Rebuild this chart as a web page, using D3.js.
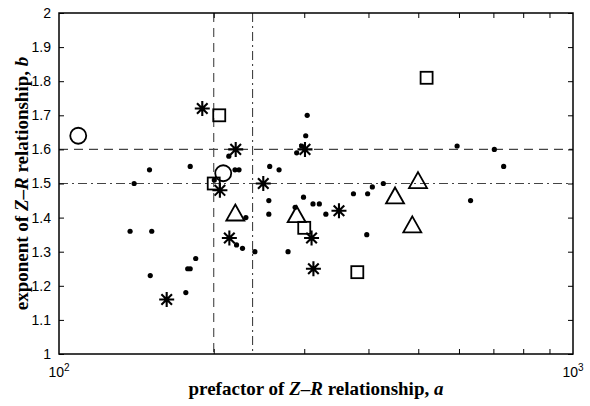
<!DOCTYPE html>
<html>
<head>
<meta charset="utf-8">
<script src="https://cdn.jsdelivr.net/npm/d3@7"></script>
<style>
  html, body { margin: 0; padding: 0; background: #fff; }
  svg { display: block; }
</style>
</head>
<body>
<svg id="chart" width="590" height="406"></svg>
<script>
// ---- data (prefactor a, exponent b) ----
const dots = [
  [150,1.54],[180,1.55],[140,1.50],[220,1.54],[224,1.54],[214,1.58],[200.5,1.51],
  [231,1.40],[257,1.55],[268,1.54],[256,1.45],[256,1.41],[137.5,1.36],[151.5,1.36],
  [150.5,1.23],[184.5,1.28],[178,1.25],[180,1.25],[176.5,1.18],[221.5,1.32],
  [227.5,1.31],[240.5,1.30],[304,1.70],[302,1.64],[296.5,1.61],[290,1.59],
  [299,1.46],[312,1.44],[321,1.44],[330.5,1.41],[374,1.47],[398.5,1.47],[407,1.49],
  [427.5,1.50],[288,1.43],[397,1.35],[279,1.30],[595,1.61],[703,1.60],[733,1.55],[632,1.45]
];
const stars = [
  [190,1.72],[220.7,1.60],[205.6,1.48],[249.7,1.50],[301,1.60],[350.5,1.42],
  [214.5,1.34],[162,1.16],[310,1.34],[312.6,1.25]
];
const squares = [[205,1.70],[200,1.50],[300,1.37],[380.5,1.24],[519,1.81]];
const circles = [[109,1.64],[208.7,1.53]];
const triangles = [[220.3,1.415],[290,1.41],[450.6,1.465],[499.4,1.51],[486.8,1.38]];

const refA = [200, 238];          // vertical lines: dashed, dash-dot
const refB = [1.6, 1.5];          // horizontal lines: dashed, dash-dot
const yTicks = [1,1.1,1.2,1.3,1.4,1.5,1.6,1.7,1.8,1.9,2];
const yTickLabels = ["1","1.1","1.2","1.3","1.4","1.5","1.6","1.7","1.8","1.9","2"];
const xMajor = [100, 1000];
const xMajorExp = ["2", "3"];
const xMinor = [200,300,400,500,600,700,800,900];

// ---- layout ----
const L = 59, R = 573, T = 13, B = 354;
const svg = d3.select("#chart");
const x = d3.scaleLog().domain([100, 1000]).range([L, R]);
const y = d3.scaleLinear().domain([1, 2]).range([B, T]);

// reference lines
const refStyle = ["9,6", "9,4,2,4"];
refA.forEach((v, i) => {
  svg.append("line").attr("x1", x(v)).attr("x2", x(v)).attr("y1", T).attr("y2", B)
    .attr("stroke", "#444").attr("stroke-width", 1.1).attr("stroke-dasharray", refStyle[i]);
});
refB.forEach((v, i) => {
  svg.append("line").attr("x1", L).attr("x2", R).attr("y1", y(v)).attr("y2", y(v))
    .attr("stroke", "#444").attr("stroke-width", 1.1).attr("stroke-dasharray", refStyle[i]);
});

// axes (ticks inward on all four sides)
const tickLen = 5;
const axL = svg.append("g").attr("transform", `translate(${L},0)`)
  .call(d3.axisLeft(y).tickValues(yTicks).tickSize(-tickLen).tickPadding(8)
    .tickFormat((d, i) => yTickLabels[i]));
const axR = svg.append("g").attr("transform", `translate(${R},0)`)
  .call(d3.axisRight(y).tickValues(yTicks).tickSize(-tickLen).tickFormat(""));
const axB = svg.append("g").attr("transform", `translate(0,${B})`)
  .call(d3.axisBottom(x).tickValues(xMinor).tickSize(-tickLen).tickFormat(""));
const axT = svg.append("g").attr("transform", `translate(0,${T})`)
  .call(d3.axisTop(x).tickValues(xMinor).tickSize(-tickLen).tickFormat(""));
[axL, axR, axB, axT].forEach(g => {
  g.select(".domain").remove();
  g.selectAll(".tick line").attr("stroke", "#000").attr("stroke-width", 1);
});
axL.selectAll(".tick text").attr("font-family", "'Liberation Sans', Arial, sans-serif")
  .attr("font-size", 14).attr("fill", "#000");

// x major labels 10^2, 10^3
xMajor.forEach((v, i) => {
  const t = svg.append("text").attr("x", x(v)).attr("y", 377)
    .attr("text-anchor", "middle")
    .attr("font-family", "'Liberation Sans', Arial, sans-serif").attr("font-size", 14);
  t.append("tspan").text("10");
  t.append("tspan").attr("dy", -6).attr("font-size", 10).text(xMajorExp[i]);
});

// frame
svg.append("rect").attr("x", L).attr("y", T).attr("width", R - L).attr("height", B - T)
  .attr("fill", "none").attr("stroke", "#000").attr("stroke-width", 1.5);

// markers
const mk = svg.append("g");
mk.selectAll("circle.dot").data(dots).join("circle").attr("class", "dot")
  .attr("cx", d => x(d[0])).attr("cy", d => y(d[1])).attr("r", 2.6).attr("fill", "#000");

mk.selectAll("rect.sq").data(squares).join("rect").attr("class", "sq")
  .attr("x", d => x(d[0]) - 6).attr("y", d => y(d[1]) - 6).attr("width", 12).attr("height", 12)
  .attr("fill", "none").attr("stroke", "#000").attr("stroke-width", 1.8);

mk.selectAll("circle.ci").data(circles).join("circle").attr("class", "ci")
  .attr("cx", d => x(d[0])).attr("cy", d => y(d[1])).attr("r", 8)
  .attr("fill", "none").attr("stroke", "#000").attr("stroke-width", 1.8);

mk.selectAll("path.tri").data(triangles).join("path").attr("class", "tri")
  .attr("d", d => {
    const cx = x(d[0]), cy = y(d[1]);
    return `M${cx},${cy - 8}L${cx + 9},${cy + 8}L${cx - 9},${cy + 8}Z`;
  })
  .attr("fill", "none").attr("stroke", "#000").attr("stroke-width", 1.8).attr("stroke-linejoin", "miter");

mk.selectAll("path.st").data(stars).join("path").attr("class", "st")
  .attr("d", d => {
    const cx = x(d[0]), cy = y(d[1]), s = 7.5, k = 5.3;
    return `M${cx - s},${cy}L${cx + s},${cy}M${cx},${cy - s}L${cx},${cy + s}` +
           `M${cx - k},${cy - k}L${cx + k},${cy + k}M${cx - k},${cy + k}L${cx + k},${cy - k}`;
  })
  .attr("fill", "none").attr("stroke", "#000").attr("stroke-width", 2.1);

// axis titles
const titleFont = "'Liberation Serif', 'Times New Roman', serif";
const xt = svg.append("text").attr("x", (L + R) / 2).attr("y", 395).attr("text-anchor", "middle")
  .attr("font-family", titleFont).attr("font-size", 19).attr("font-weight", "bold");
xt.append("tspan").text("prefactor of ");
xt.append("tspan").attr("font-style", "italic").text("Z");
xt.append("tspan").text("–");
xt.append("tspan").attr("font-style", "italic").text("R");
xt.append("tspan").text(" relationship, ");
xt.append("tspan").attr("font-style", "italic").text("a");

const yt = svg.append("text").attr("transform", `translate(28,${(T + B) / 2}) rotate(-90)`)
  .attr("text-anchor", "middle")
  .attr("font-family", titleFont).attr("font-size", 19).attr("font-weight", "bold");
yt.append("tspan").text("exponent of ");
yt.append("tspan").attr("font-style", "italic").text("Z");
yt.append("tspan").text("–");
yt.append("tspan").attr("font-style", "italic").text("R");
yt.append("tspan").text(" relationship, ");
yt.append("tspan").attr("font-style", "italic").text("b");
</script>
</body>
</html>
